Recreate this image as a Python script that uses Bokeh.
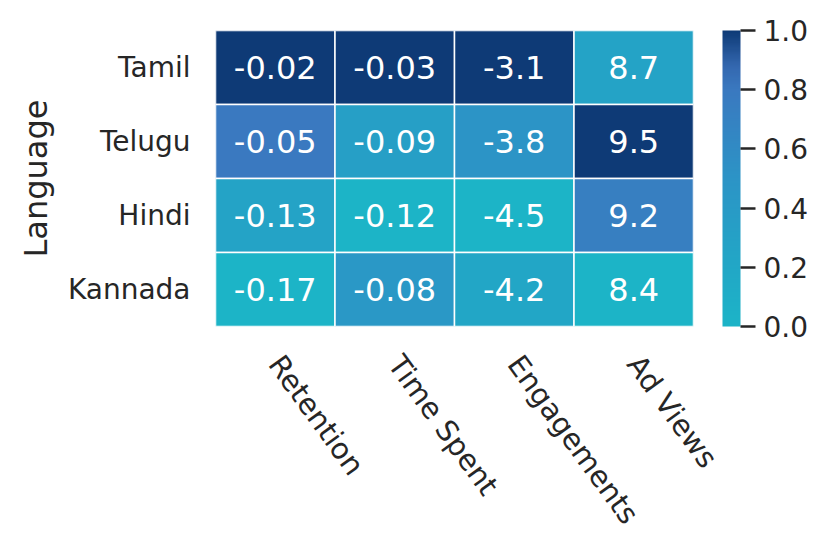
import math
import numpy as np
from bokeh.plotting import figure
from bokeh.models import ColumnDataSource, LinearColorMapper, ColorBar, FixedTicker, PrintfTickFormatter
from bokeh.core.properties import value
from bokeh.embed import file_html
from bokeh.resources import INLINE

languages = ["Tamil", "Telugu", "Hindi", "Kannada"]
metrics = ["Retention", "Time Spent", "Engagements", "Ad Views"]
retention = [-0.02, -0.05, -0.13, -0.17]
time_spent = [-0.03, -0.09, -0.12, -0.08]
engagements = [-3.1, -3.8, -4.5, -4.2]
ad_views = [8.7, 9.5, 9.2, 8.4]
colorbar_ticks = [0.0, 0.2, 0.4, 0.6, 0.8, 1.0]

columns = [retention, time_spent, engagements, ad_views]

# colour gradient stops (cyan -> blue -> navy)
stops = [(0.0, (28, 180, 199)), (0.25, (35, 164, 198)), (0.5, (44, 148, 198)),
         (0.8, (58, 121, 192)), (0.88, (52, 104, 176)), (1.0, (14, 58, 118))]


def interp(t):
    for (t0, c0), (t1, c1) in zip(stops[:-1], stops[1:]):
        if t <= t1:
            f = (t - t0) / (t1 - t0)
            return tuple(int(round(a + (b - a) * f)) for a, b in zip(c0, c1))
    return stops[-1][1]


palette = ["#%02x%02x%02x" % interp(i / 255) for i in range(256)]

xs, ys, vals, norms, labels = [], [], [], [], []
for m, col in zip(metrics, columns):
    lo, hi = min(col), max(col)
    for lang, v in zip(languages, col):
        xs.append(m)
        ys.append(lang)
        vals.append(v)
        norms.append((v - lo) / (hi - lo))
        labels.append(f"{v:g}")

src = ColumnDataSource(dict(x=xs, y=ys, v=vals, n=norms, label=labels))
mapper = LinearColorMapper(palette=palette, low=0, high=1)

p = figure(x_range=metrics, y_range=list(reversed(languages)),
           frame_width=478, frame_height=296,
           min_border_left=215, min_border_top=30, min_border_bottom=213, min_border_right=10,
           output_backend="svg", toolbar_location=None, tools="")
p.rect(x="x", y="y", width=1, height=1, source=src,
       fill_color={"field": "n", "transform": mapper}, line_color="white", line_width=1.5)
p.text(x="x", y="y", text="label", source=src, text_color="white",
       text_font=value("DejaVu Sans"), text_font_size="32px",
       text_align="center", text_baseline="middle")

p.outline_line_color = None
p.grid.grid_line_color = None
for ax in (p.xaxis[0], p.yaxis[0]):
    ax.axis_line_color = None
    ax.major_tick_line_color = None
    ax.minor_tick_line_color = None
    ax.major_label_text_font = "DejaVu Sans"
    ax.major_label_text_font_size = "28px"
    ax.major_label_text_color = "#262626"
p.xaxis.major_label_text_font_size = "29px"
p.yaxis.major_label_standoff = 19
p.xaxis.major_label_orientation = -54 * math.pi / 180
p.xaxis.major_label_standoff = 26
p.yaxis.axis_label = "Language"
p.yaxis.axis_label_text_font = "DejaVu Sans"
p.yaxis.axis_label_text_font_size = "32px"
p.yaxis.axis_label_text_font_style = "normal"
p.yaxis.axis_label_text_color = "#262626"
p.yaxis.axis_label_standoff = 10

cb = ColorBar(color_mapper=mapper, width=18, height=296, padding=0, margin=0,
              location=(29, 0),
              ticker=FixedTicker(ticks=colorbar_ticks),
              formatter=PrintfTickFormatter(format="%.1f"),
              major_tick_in=0, major_tick_out=15, major_tick_line_color="#262626",
              major_tick_line_width=2.5, minor_tick_line_color=None,
              major_label_text_font="DejaVu Sans", major_label_text_font_size="28px",
              major_label_text_color="#262626", label_standoff=8,
              bar_line_color=None, border_line_color=None, background_fill_color=None)
p.add_layout(cb, "right")

open("out.html", "w").write(file_html(p, INLINE))
